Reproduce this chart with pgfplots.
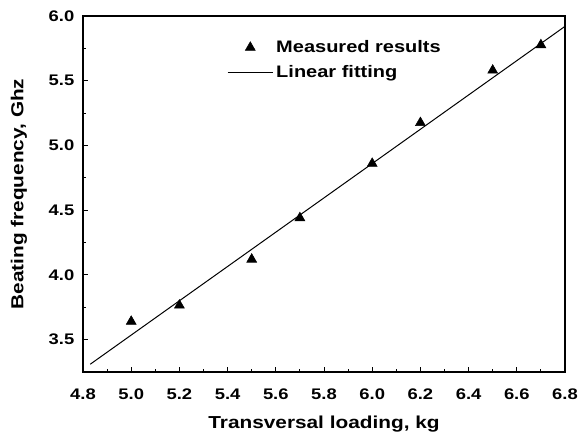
\documentclass[border=0pt]{standalone}
\usepackage{fontspec}
\setmainfont{Liberation Sans}[FakeStretch=1.2]
\usepackage{pgfplots}
\pgfplotsset{compat=1.18}
\begin{document}
\begin{tikzpicture}
\useasboundingbox (-62.25pt,-45pt) rectangle (375.75pt,279pt);
\begin{axis}[
  at={(0,0)}, anchor=south west,
  scale only axis=true,
  width=361.5pt, height=267pt,
  xmin=4.8, xmax=6.8, ymin=3.25, ymax=6.0,
  xtick={4.8,5.0,...,6.8},
  ytick={3.5,4.0,...,6.0},
  minor x tick num=1, minor y tick num=1,
  xtick pos=bottom, ytick pos=left,
  tick align=inside,
  major tick length=3.5pt, minor tick length=2pt,
  axis line style={line width=0.8pt},
  every tick/.style={black, line width=0.7pt},
  /pgf/number format/assume math mode=true,
  /pgf/number format/fixed, /pgf/number format/fixed zerofill,
  /pgf/number format/precision=1,
  ticklabel style={font=\fontsize{11.5pt}{13pt}\selectfont\bfseries},
  xticklabel style={yshift=-9pt},
  yticklabel style={xshift=-3pt},
  xlabel={Transversal loading, kg},
  ylabel={Beating frequency, Ghz},
  label style={font=\fontsize{13pt}{15pt}\selectfont\bfseries},
  xlabel style={at={(axis description cs:0.5,-0.147)}, anchor=center},
  ylabel style={at={(axis description cs:-0.133,0.5)}, anchor=center},
  legend style={at={(axis description cs:0.29,0.947)}, anchor=north west,
    draw=none, fill=none, font=\fontsize{12.5pt}{14pt}\selectfont\bfseries,
    row sep=4pt, cells={anchor=west, inner xsep=1.5pt}},
  legend image code/.code={\draw[mark repeat=2,mark phase=2] plot coordinates {(0cm,0cm)(0.6cm,0cm)(1.2cm,0cm)};},
]
\addplot[only marks, mark=triangle*, mark size=4.3pt, black] coordinates {
  (5.0,3.64) (5.2,3.765) (5.5,4.12) (5.7,4.44) (6.0,4.86) (6.2,5.175) (6.5,5.58) (6.7,5.776)
};
\addlegendentry{Measured results}
\addplot[black, line width=0.75pt] coordinates {(4.83,3.31) (6.8,5.92)};
\addlegendentry{Linear fitting}
\end{axis}
\end{tikzpicture}
\end{document}
